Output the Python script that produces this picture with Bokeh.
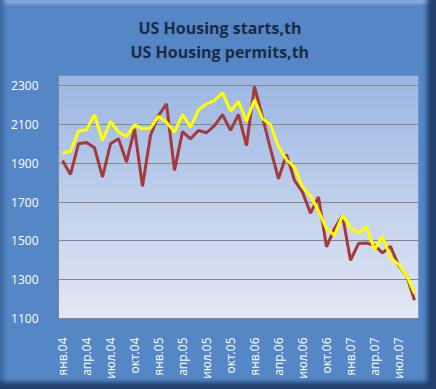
import numpy as np
from bokeh.plotting import figure
from bokeh.models import FixedTicker, Title
from bokeh.embed import file_html
from bokeh.resources import INLINE

months = ["янв.04", "апр.04", "июл.04", "окт.04", "янв.05", "апр.05", "июл.05", "окт.05",
          "янв.06", "апр.06", "июл.06", "окт.06", "янв.07", "апр.07", "июл.07"]

starts = [1914, 1842, 2000, 2007, 1980, 1829, 2000, 2026, 1906, 2077, 1781, 2043,
          2146, 2206, 1863, 2063, 2026, 2069, 2057, 2094, 2151, 2069, 2151, 1991,
          2295, 2137, 1974, 1820, 1945, 1811, 1751, 1643, 1726, 1469, 1563, 1631,
          1400, 1486, 1489, 1477, 1438, 1472, 1374, 1323, 1194]

permits = [1952, 1962, 2065, 2072, 2151, 2017, 2115, 2060, 2038, 2098, 2077, 2081,
           2141, 2111, 2060, 2151, 2086, 2175, 2206, 2223, 2264, 2168, 2218, 2117,
           2226, 2129, 2099, 1986, 1918, 1880, 1777, 1734, 1654, 1563, 1529, 1631,
           1568, 1542, 1571, 1455, 1523, 1414, 1379, 1323, 1229]

title_lines = ["US Housing starts,th", "US Housing permits,th"]

y_ticks = [1100, 1300, 1500, 1700, 1900, 2100, 2300]

n = len(starts)
x = list(range(n))
tick_pos = list(range(0, n, 3))[:len(months)]

Y0, Y1 = 1100, 2352

p = figure(frame_width=360, frame_height=243,
           x_range=(-0.5, n - 0.5), y_range=(Y0, Y1),
           output_backend="svg", toolbar_location=None,
           min_border_left=58, min_border_right=18,
           min_border_top=75, min_border_bottom=71)

p.border_fill_color = None
p.background_fill_color = None
p.outline_line_color = None
p.styles = {
    "background": "#5587C7",
    "box-shadow": ("inset -13px 0 5px -4px #22406C, inset 0 -11px 5px -4px #22406C, "
                   "inset 7px 0 4px -3px #3E69A3, inset 0 9px 3px -5px #8AAEE0"),
}

# plot-area gradient
top = np.array([0x9B, 0xB7, 0xE3])
bot = np.array([0xE3, 0xE8, 0xF4])
N = 64
t = np.linspace(0, 1, N)[:, None]
cols = (bot * (1 - t) + top * t).astype(np.uint32)
img = np.empty((N, 1), dtype=np.uint32)
view = img.view(dtype=np.uint8).reshape((N, 1, 4))
view[:, 0, 0] = cols[:, 0]
view[:, 0, 1] = cols[:, 1]
view[:, 0, 2] = cols[:, 2]
view[:, 0, 3] = 255
p.image_rgba(image=[img], x=-0.5, y=Y0, dw=n, dh=Y1 - Y0, level="image")

p.line(x, starts, line_color="#A43A3B", line_width=3)
p.line(x, permits, line_color="#FFFF00", line_width=3)

has_standoff = "standoff" in Title.properties()

def make_title(txt, off, size="16px"):
    kw = dict(text=txt, align="left", offset=off, text_font="Open Sans",
              text_font_size=size, text_font_style="bold", text_color="#1B2A45")
    if has_standoff:
        kw["standoff"] = 0
    return Title(**kw)

spacer = make_title(" ", 0, size="8px")
t2 = make_title(title_lines[1], 72)
t1 = make_title(title_lines[0], 80)
p.add_layout(spacer, "above")
p.add_layout(t2, "above")
p.add_layout(t1, "above")

p.xgrid.visible = False
p.ygrid.grid_line_color = "#868686"
p.ygrid.grid_line_width = 1
p.ygrid.ticker = FixedTicker(ticks=y_ticks)

p.yaxis.ticker = FixedTicker(ticks=y_ticks)
p.xaxis.ticker = FixedTicker(ticks=tick_pos)
p.xaxis.major_label_overrides = {pos: lab for pos, lab in zip(tick_pos, months)}
p.xaxis.major_label_orientation = np.pi / 2

for ax in (p.xaxis[0], p.yaxis[0]):
    ax.axis_line_color = "#868686"
    ax.major_tick_line_color = None
    ax.minor_tick_line_color = None
    ax.major_label_text_color = "white"
    ax.major_label_text_font = "Open Sans"
    ax.major_label_text_font_size = "12px"
p.yaxis.major_label_standoff = 14
p.xaxis.major_label_standoff = 13

open("out.html", "w").write(file_html(p, INLINE))
